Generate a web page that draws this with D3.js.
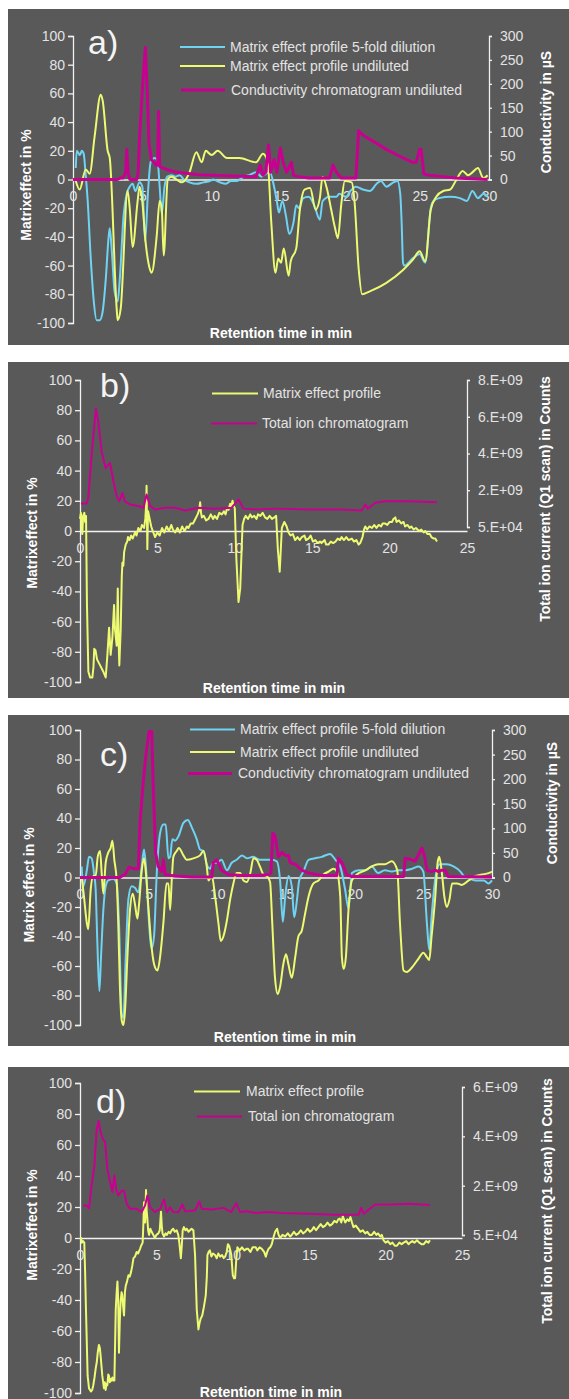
<!DOCTYPE html>
<html>
<head>
<meta charset="utf-8">
<script src="https://cdn.jsdelivr.net/npm/d3@7"></script>
<style>
  body { margin: 0; background: #fff; }
  svg { display: block; }
  text { font-family: "Liberation Sans", Arial, sans-serif; }
</style>
</head>
<body>
<svg id="svg" width="569" height="1399"></svg>
<script>
// ---------- data: [retention time (min), value] ----------
const leftTicks = [-100, -80, -60, -40, -20, 0, 20, 40, 60, 80, 100];
const xTicks30 = [0, 5, 10, 15, 20, 25, 30];
const xTicks25 = [0, 5, 10, 15, 20, 25];
const condTicks = [0, 50, 100, 150, 200, 250, 300];
const ticTicksB = [5e4, 2e9, 4e9, 6e9, 8e9];
const ticLabelsB = ['5.E+04', '2.E+09', '4.E+09', '6.E+09', '8.E+09'];
const ticTicksD = [5e4, 2e9, 4e9, 6e9];
const ticLabelsD = ['5.E+04', '2.E+09', '4.E+09', '6.E+09'];

// panel a  (matrix effect in %, conductivity in µS)
const aDilution = [[0.2,8],[0.27,20],[0.5,17],[0.63,20],[0.77,18],[0.9,5],[1.06,-15],[1.28,-55],[1.5,-85],[1.7,-98],[1.93,-98],[2.14,-92],[2.36,-70],[2.57,-40],[2.65,-34],[2.8,-50],[3.0,-78],[3.22,-85],[3.37,-70],[3.65,-25],[3.87,-10],[4.09,-5],[4.3,-3],[4.5,-8],[4.8,-2],[5.0,-5],[5.2,-43],[5.4,-10],[5.6,12],[5.9,15],[6.1,13],[6.25,-5],[6.4,-24],[6.6,-5],[6.8,2],[7.1,3],[7.4,2],[7.7,3],[8.0,0],[8.4,-2],[8.9,-3],[9.4,-2],[9.9,-1],[10.1,0],[10.6,-2],[11.0,-3],[11.4,-1],[11.8,-1],[12.3,2],[12.7,3],[13.2,5],[13.6,2],[13.9,4],[14.2,5],[14.5,-5],[14.7,-15],[14.85,-23],[15.1,-15],[15.35,-25],[15.6,-38],[15.9,-30],[16.1,-18],[16.3,-20],[16.6,-13],[17.0,-12],[17.4,-18],[17.8,-28],[18.0,-15],[18.5,-12],[19.0,-12],[19.2,-10],[19.7,-12],[20.0,-8],[20.4,-5],[20.9,-7],[21.4,-8],[21.9,-3],[22.2,-1],[22.6,-5],[23.1,-2],[23.4,-1],[23.6,-10],[23.7,-30],[23.8,-58],[23.9,-60],[24.5,-55],[25.0,-52],[25.4,-58],[25.8,-20],[26.0,-15],[26.4,-13],[27.2,-12],[27.9,-13],[28.4,-15],[28.8,-8],[29.2,-13],[29.6,-10],[29.9,-12]];
const aUndiluted = [[0.2,-1],[0.48,-7],[0.92,7],[1.2,4],[1.56,30],[2.0,59],[2.14,55],[2.5,20],[2.65,15],[3.15,-90],[3.22,-98],[3.44,-90],[3.94,-8],[4.09,-20],[4.3,-47],[4.66,-15],[4.8,-5],[4.96,-12],[5.25,-45],[5.53,-62],[5.67,-65],[6.03,-40],[6.25,-15],[6.4,-20],[6.54,-53],[6.83,0],[7.1,2],[7.84,-2],[8.2,1],[8.4,5],[8.9,19],[9.28,12],[9.57,20],[10.0,17],[10.43,20],[11.1,15],[12.0,15],[13.2,12],[13.7,18],[14.04,12],[14.3,-30],[14.6,-65],[14.8,-55],[15.0,-58],[15.2,-48],[15.55,-67],[15.7,-57],[16.1,-48],[16.35,-22],[16.7,-7],[17.1,-6],[17.5,-21],[17.8,-13],[18.0,2],[18.3,-6],[18.6,-20],[18.9,-34],[19.1,-41],[19.35,-17],[19.6,-1],[20.1,-2],[20.3,-15],[20.6,-62],[20.85,-80],[21.4,-78],[22.6,-72],[23.8,-63],[24.5,-56],[25.0,-50],[25.4,-57],[25.8,-21],[26.2,-12],[26.7,-8],[27.2,-7],[27.6,-1],[28.1,6],[28.5,3],[28.8,5],[29.2,8],[29.6,1],[29.9,3]];
const aConductivity = [[0,0],[3.2,0],[3.4,3],[3.6,3],[3.8,15],[3.88,63],[3.97,15],[4.1,0],[4.6,0],[4.7,15],[4.8,90],[5.05,210],[5.22,276],[5.36,180],[5.48,75],[5.65,42],[6.0,30],[6.1,30],[6.17,142],[6.25,27],[6.75,21],[7.5,15],[9.1,10],[11.5,7.5],[13.2,6],[13.5,30],[13.7,9],[13.9,15],[14.1,72],[14.25,15],[14.5,42],[14.7,15],[14.95,66],[15.15,36],[15.4,15],[15.75,36],[15.9,9],[16.3,6],[17,3],[18.5,3],[18.75,30],[19.0,15],[19.35,3],[20.4,3],[20.6,102],[20.9,93],[22.6,63],[23.8,45],[24.5,36],[24.75,36],[25.0,63],[25.1,63],[25.3,12],[25.7,9],[26.7,6],[27.6,3],[29.9,0]];

// panel b  (matrix effect in %, total ion current in counts x 1e9)
const bProfile = [[0.0,8],[0.06,12],[0.1,2],[0.15,-2],[0.2,10],[0.28,12],[0.33,6],[0.39,10],[0.45,-49],[0.54,-93],[0.65,-97],[0.8,-97],[0.87,-90],[0.92,-78],[1.0,-79],[1.1,-85],[1.3,-89],[1.5,-93],[1.66,-97],[1.77,-82],[1.88,-64],[1.98,-82],[2.09,-71],[2.2,-49],[2.26,-65],[2.37,-76],[2.44,-38],[2.5,-75],[2.54,-89],[2.63,-65],[2.7,-30],[2.74,-21],[2.8,-23],[2.85,-14],[2.95,-9],[3.05,-7],[3.1,-4],[3.2,-6],[3.3,-3],[3.4,-5],[3.55,-1],[3.65,-3],[3.77,2],[3.9,0],[4.0,4],[4.14,2],[4.22,8],[4.27,17],[4.3,30],[4.33,5],[4.35,-12],[4.38,5],[4.4,13],[4.5,8],[4.6,3],[4.7,0],[4.85,-4],[5.0,-1],[5.15,-3],[5.3,2],[5.45,-1],[5.6,3],[5.75,0],[5.9,4],[6.0,1],[6.14,-1],[6.3,2],[6.45,-1],[6.6,3],[6.75,0],[6.9,3],[7.0,2],[7.15,5],[7.3,5],[7.45,8],[7.6,11],[7.7,14],[7.76,19],[7.82,12],[7.87,9],[8.0,10],[8.15,7],[8.3,8],[8.45,11],[8.6,8],[8.7,10],[8.85,8],[9.0,12],[9.16,11],[9.3,13],[9.4,11],[9.5,15],[9.6,14],[9.7,18],[9.78,16],[9.85,20],[9.92,17],[10.0,15],[10.1,-18],[10.24,-47],[10.35,-38],[10.5,4],[10.6,8],[10.7,10],[10.85,8],[11.0,11],[11.1,9],[11.25,10],[11.4,8],[11.5,11],[11.65,10],[11.8,12],[11.96,9],[12.1,8],[12.25,10],[12.4,8],[12.55,9],[12.67,10],[12.78,-12],[12.9,-27],[13.04,2],[13.2,6],[13.35,3],[13.47,-1],[13.6,-3],[13.75,-2],[13.9,-6],[14.05,-4],[14.2,-6],[14.33,-4],[14.5,-3],[14.6,-6],[14.76,-5],[14.9,-3],[15.05,-7],[15.2,-6],[15.35,-8],[15.5,-7],[15.6,-8],[15.8,-6],[15.9,-9],[16.05,-9],[16.2,-7],[16.35,-8],[16.5,-7],[16.65,-5],[16.8,-6],[16.9,-4],[17.05,-6],[17.2,-4],[17.35,-6],[17.56,-5],[17.7,-7],[17.85,-6],[18.0,-9],[18.1,-8],[18.25,-4],[18.35,1],[18.43,3],[18.55,1],[18.7,3],[18.86,2],[19.0,4],[19.15,2],[19.3,4],[19.45,3],[19.55,5],[19.7,5],[19.85,4],[20.0,6],[20.15,6],[20.25,8],[20.37,9],[20.45,6],[20.6,7],[20.75,5],[20.9,6],[21.0,3],[21.15,4],[21.3,2],[21.4,3],[21.55,1],[21.7,2],[21.9,0],[22.05,1],[22.2,-1],[22.3,0],[22.45,-2],[22.6,-2],[22.7,-4],[22.85,-5],[22.95,-5],[23.06,-7]];
const bTic = [[0.06,1.28],[0.43,1.28],[0.54,1.59],[0.75,3.93],[1.03,6.45],[1.18,5.73],[1.4,4.1],[1.66,3.2],[1.83,3.39],[1.94,3.48],[2.16,2.49],[2.37,1.68],[2.54,1.4],[2.74,1.86],[2.9,1.4],[3.23,1.23],[3.77,1.14],[4.1,1.05],[4.3,1.77],[4.53,1.14],[4.85,0.95],[5.5,1.05],[6.14,1.05],[6.8,0.9],[7.65,1.05],[8.7,0.99],[9.8,1.05],[10.24,1.5],[10.56,1.0],[11.5,0.95],[12.6,1.0],[14.76,0.95],[16.9,0.95],[18.2,0.9],[18.43,1.23],[18.6,1.0],[19.07,1.32],[19.7,1.4],[21.2,1.4],[23.06,1.35]];

// panel c  (matrix effect in %, conductivity in µS)
const cDilution = [[0.12,7.5],[0.24,-6],[0.5,5],[0.66,14],[0.85,13],[1.02,3],[1.14,-8],[1.26,-43],[1.41,-77],[1.53,-54],[1.7,-22],[1.87,-6],[2.06,-2],[2.43,-1],[2.67,-4],[2.84,-31],[3.04,-93],[3.16,-95],[3.33,-54],[3.52,-15],[3.76,-6],[4.0,-7],[4.25,-10],[4.5,7.5],[4.66,19],[4.8,7.5],[4.98,-24],[5.22,-48],[5.39,-40],[5.59,3],[5.83,30],[6.07,36],[6.24,36],[6.44,13],[6.56,14],[6.73,26],[6.92,25],[7.17,28],[7.53,37],[7.85,39],[8.14,34],[8.5,26],[8.74,19],[8.99,18],[9.23,9],[9.47,6],[9.7,10],[9.96,10],[10.3,12],[10.7,5],[11.05,10],[11.4,12],[11.8,15],[12.15,13],[12.6,14],[13.1,12],[13.6,12],[13.97,12],[14.33,11],[14.57,-2],[14.77,-30],[14.94,-13],[15.18,1],[15.42,-6],[15.6,-27],[15.8,-15],[15.96,-2],[16.27,4],[16.64,12],[17.1,13],[17.6,14],[18.2,16],[18.6,12],[18.95,7.5],[19.3,-8],[19.55,-21],[19.8,3],[20.3,5],[20.8,5],[21.25,7.5],[21.7,3],[22.2,5],[22.7,4],[23.2,5],[23.7,5],[24.2,6],[24.65,7.5],[25.0,4],[25.26,-31],[25.43,-49],[25.6,-27],[25.9,1],[26.2,9],[26.7,9],[27.2,7.5],[27.7,4],[27.95,1],[28.3,-0.5],[28.8,-2],[29.4,-2],[29.75,-4],[30,-2]];
const cUndiluted = [[0.12,1],[0.29,-13],[0.5,-31],[0.6,-35],[0.78,-8],[0.97,1],[1.14,1],[1.29,14],[1.46,18],[1.58,3],[1.7,-11],[1.87,10],[2.06,17],[2.23,20],[2.36,25],[2.5,12],[2.67,-2],[2.8,-36],[2.9,-72],[3.04,-97],[3.16,-100],[3.28,-90],[3.45,-54],[3.64,-22],[3.84,-11],[4.0,-18],[4.18,-28],[4.3,-18],[4.5,5],[4.66,13],[4.8,3],[4.98,-20],[5.17,-43],[5.4,-59],[5.64,-63],[5.83,-54],[6.07,-31],[6.3,-4],[6.44,-4],[6.56,-22],[6.68,-2],[6.8,14],[7.04,18],[7.2,20],[7.53,15],[7.77,12],[8.26,13],[8.74,15],[8.99,18],[9.23,7.5],[9.35,-2],[9.6,1],[9.84,-13],[10.08,-31],[10.25,-43],[10.44,-40],[10.7,-29],[10.93,-15],[11.17,-4],[11.4,3],[11.66,3],[11.9,-2],[12.15,-3],[12.4,3],[12.63,13],[12.87,12],[13.1,7.5],[13.36,2],[13.6,1],[13.84,-3],[14.0,-31],[14.2,-68],[14.4,-79],[14.57,-74],[14.8,-59],[15.0,-52],[15.18,-59],[15.42,-68],[15.67,-54],[15.9,-40],[16.15,-36],[16.4,-24],[16.64,-13],[17.0,-4],[17.37,-2],[17.73,2],[18.1,4],[18.46,6],[18.7,4],[18.95,-13],[19.07,-54],[19.2,-62],[19.36,-54],[19.55,-22],[19.8,-2],[20.16,2],[20.8,5],[21.25,7.5],[21.7,9],[22.2,9],[22.7,11],[23.1,5],[23.3,-31],[23.56,-63],[23.8,-64],[24.17,-61],[24.65,-55],[25.0,-51],[25.26,-54],[25.43,-56],[25.6,-40],[25.87,-13],[26.04,10],[26.16,14],[26.35,3],[26.53,-13],[26.7,-20],[26.9,-15],[27.1,-4],[27.46,-4],[27.8,-5],[28.3,-2],[28.8,1],[29.27,2],[29.75,3],[30,4]];
const cConductivity = [[0,0],[2.9,0],[3.04,3],[3.28,6],[3.57,21],[3.89,18],[4.25,18],[4.37,111],[4.6,192],[4.8,249],[5.03,297],[5.22,297],[5.34,180],[5.5,51],[5.7,22],[5.95,12],[6.07,36],[6.2,6],[6.92,3],[8.14,1],[9.6,1],[9.7,30],[9.96,36],[10.3,15],[10.8,6],[11.8,4],[13.0,4],[13.7,6],[13.9,9],[14.04,90],[14.2,84],[14.45,42],[14.7,51],[14.94,45],[15.18,45],[15.3,30],[15.67,27],[16.15,15],[16.64,9],[17.6,4],[18.7,4],[18.82,39],[19.07,30],[19.43,6],[19.8,2],[23.56,2],[23.68,39],[24.17,36],[24.4,33],[24.9,60],[25.1,42],[25.26,15],[25.6,12],[25.87,15],[26.1,12],[26.35,15],[26.6,15],[26.8,2],[30,1]];

// panel d  (matrix effect in %, total ion current in counts x 1e9)
const dProfile = [[0.0,0],[0.07,0],[0.12,-3],[0.2,-2],[0.28,-3],[0.33,-20],[0.39,-46],[0.5,-89],[0.59,-97],[0.72,-99],[0.8,-98],[0.87,-95],[0.95,-90],[1.03,-84],[1.1,-80],[1.16,-74],[1.24,-69],[1.3,-71],[1.35,-76],[1.46,-89],[1.57,-97],[1.62,-93],[1.68,-98],[1.74,-94],[1.79,-95],[1.85,-88],[1.9,-89],[1.95,-93],[2.0,-91],[2.06,-92],[2.12,-90],[2.18,-92],[2.25,-92],[2.34,-46],[2.4,-35],[2.45,-28],[2.5,-40],[2.55,-74],[2.6,-55],[2.66,-41],[2.72,-35],[2.77,-37],[2.83,-45],[2.88,-50],[2.94,-35],[2.99,-31],[3.08,-28],[3.17,-24],[3.25,-25],[3.34,-22],[3.42,-18],[3.5,-13],[3.6,-12],[3.71,-9],[3.8,-10],[3.93,-7],[4.0,-5],[4.1,-3],[4.15,10],[4.19,23],[4.23,12],[4.26,10],[4.29,20],[4.32,31],[4.36,18],[4.41,12],[4.46,5],[4.52,2],[4.6,6],[4.69,4],[4.8,2],[4.9,0],[5.0,2],[5.13,3],[5.22,5],[5.3,17],[5.35,8],[5.4,3],[5.5,1],[5.6,3],[5.68,2],[5.8,4],[5.9,3],[6.0,5],[6.1,6],[6.2,4],[6.33,5],[6.43,2],[6.5,-3],[6.6,-13],[6.66,-5],[6.72,5],[6.8,7],[6.9,5],[6.99,6],[7.1,4],[7.2,5],[7.3,6],[7.42,5],[7.53,-11],[7.64,-46],[7.75,-59],[7.82,-55],[7.9,-52],[8.0,-50],[8.08,-46],[8.15,-42],[8.23,-37],[8.3,-25],[8.34,-11],[8.42,-9],[8.5,-8],[8.6,-12],[8.7,-10],[8.84,-11],[8.95,-13],[9.05,-10],[9.17,-12],[9.3,-11],[9.4,-13],[9.5,-12],[9.6,-9],[9.68,-4],[9.76,-5],[9.84,-8],[9.9,-11],[10.0,-24],[10.08,-26],[10.15,-26],[10.22,-15],[10.3,-6],[10.45,-8],[10.6,-6],[10.75,-8],[10.9,-7],[11.0,-7],[11.15,-9],[11.3,-6],[11.5,-6],[11.6,-8],[11.75,-6],[11.9,-7],[12.05,-9],[12.16,-12],[12.25,-9],[12.34,-7],[12.45,-6],[12.55,-4],[12.65,0],[12.77,4],[12.9,6],[13.0,2],[13.1,0],[13.25,2],[13.43,1],[13.6,3],[13.75,1],[13.86,2],[14.0,4],[14.15,2],[14.3,3],[14.45,5],[14.6,3],[14.74,4],[14.9,6],[15.05,4],[15.17,5],[15.3,7],[15.45,5],[15.6,7],[15.75,9],[15.9,7],[16.05,8],[16.2,10],[16.35,8],[16.5,9],[16.65,11],[16.8,10],[16.9,12],[17.0,12.5],[17.1,10],[17.2,14],[17.36,10],[17.5,12],[17.6,11],[17.7,13.5],[17.8,10],[17.9,7],[18.05,8],[18.2,6],[18.35,4],[18.5,5],[18.67,3],[18.8,4],[18.95,2],[19.1,2],[19.25,4],[19.4,2],[19.5,3],[19.65,1],[19.75,2],[19.87,-1.5],[20.0,-3],[20.15,-2],[20.3,-4],[20.45,-3],[20.6,-5],[20.74,-5],[20.9,-3],[21.05,-4],[21.18,-3],[21.35,-2],[21.5,-4],[21.6,-3],[21.75,-2],[21.9,-3],[22.05,-1.5],[22.2,-3],[22.35,-4],[22.5,-4],[22.65,-2],[22.8,-3],[22.9,-1.5]];
const dTic = [[0.22,1.2],[0.44,1.2],[0.59,1.08],[0.76,2.0],[0.94,2.8],[1.09,4.25],[1.22,4.62],[1.35,4.18],[1.48,3.9],[1.64,3.78],[1.79,2.69],[1.97,2.15],[2.12,1.74],[2.25,2.42],[2.36,1.88],[2.51,1.6],[2.73,1.8],[2.88,1.8],[3.06,1.26],[3.28,1.06],[3.71,1.06],[4.04,0.93],[4.26,1.2],[4.41,1.6],[4.59,1.12],[4.9,0.93],[5.24,1.06],[5.5,1.44],[5.68,0.93],[5.9,1.12],[6.1,0.93],[6.44,0.93],[6.7,1.24],[6.88,0.96],[7.53,0.99],[7.8,1.36],[7.97,1.06],[8.62,1.03],[9.39,1.1],[9.9,0.93],[10.22,1.29],[10.48,0.93],[10.9,0.96],[11.46,0.89],[12.34,0.93],[13.2,0.89],[14.96,0.86],[16.7,0.82],[18.23,0.82],[18.4,1.1],[18.58,0.86],[18.9,1.03],[19.32,1.24],[20.4,1.24],[21.5,1.27],[22.9,1.22]];

// ---------- styling ----------
const BG = '#595959';
const CYAN = '#6fd3f3';
const YELLOW = '#eefa70';
const MAGENTA = '#c8008f';
const TICK_TEXT = '#e3e3e3';
const AXIS = '#f2f2f2';

const svg = d3.select('#svg');

const panels = [
  {
    label: 'a)', labelPos: [88, 54], box: [8, 9, 561, 336],
    x0: 73, x1: 489, yTop: 36, yBot: 323, xMax: 30, xTicks: xTicks30,
    leftTitle: 'Matrixeffect in %', leftTitlePos: [26, 185],
    rightTitle: 'Conductivity in µS', rightTitlePos: [546, 112],
    xTitlePos: [281, 338],
    right: {max: 300, bot: 179.5, top: 36, ticks: condTicks, labels: condTicks.map(String)},
    series: [
      {data: aDilution, color: CYAN, width: 2, secondary: false, curve: d3.curveMonotoneX},
      {data: aUndiluted, color: YELLOW, width: 2, secondary: false, curve: d3.curveMonotoneX},
      {data: aConductivity, color: MAGENTA, width: 3, secondary: true, curve: d3.curveLinear}
    ],
    legend: [
      {text: 'Matrix effect profile 5-fold dilution', color: CYAN, width: 2, y: 47, x1: 180, x2: 225, tx: 230},
      {text: 'Matrix effect profile  undiluted', color: YELLOW, width: 2, y: 66, x1: 180, x2: 225, tx: 230},
      {text: 'Conductivity chromatogram undiluted', color: MAGENTA, width: 3, y: 90, x1: 181, x2: 225, tx: 231}
    ]
  },
  {
    label: 'b)', labelPos: [100, 397], box: [8, 362, 561, 336],
    x0: 80, x1: 467, yTop: 380, yBot: 682, xMax: 25, xTicks: xTicks25,
    leftTitle: 'Matrixeffect in %', leftTitlePos: [32, 533],
    rightTitle: 'Total ion current (Q1 scan) in Counts', rightTitlePos: [545, 499],
    xTitlePos: [274, 693],
    right: {max: 8e9, bot: 527, top: 380, ticks: ticTicksB, labels: ticLabelsB},
    series: [
      {data: bProfile, color: YELLOW, width: 2, secondary: false, curve: d3.curveLinear},
      {data: bTic.map(d => [d[0], d[1] * 1e9]), color: MAGENTA, width: 2, secondary: true, curve: d3.curveLinear}
    ],
    legend: [
      {text: 'Matrix effect profile', color: YELLOW, width: 2, y: 393.5, x1: 212, x2: 258, tx: 263},
      {text: 'Total ion chromatogram', color: MAGENTA, width: 2, y: 423.5, x1: 211, x2: 257, tx: 262}
    ]
  },
  {
    label: 'c)', labelPos: [100, 766], box: [8, 715, 561, 331],
    x0: 80, x1: 492, yTop: 730, yBot: 1025, xMax: 30, xTicks: xTicks30,
    leftTitle: 'Matrix effect in %', leftTitlePos: [29, 885],
    rightTitle: 'Conductivity in µS', rightTitlePos: [552, 803],
    xTitlePos: [285, 1042],
    right: {max: 300, bot: 877.5, top: 730, ticks: condTicks, labels: condTicks.map(String)},
    series: [
      {data: cDilution, color: CYAN, width: 2, secondary: false, curve: d3.curveMonotoneX},
      {data: cUndiluted, color: YELLOW, width: 2, secondary: false, curve: d3.curveMonotoneX},
      {data: cConductivity, color: MAGENTA, width: 3, secondary: true, curve: d3.curveLinear}
    ],
    legend: [
      {text: 'Matrix effect profile 5-fold dilution', color: CYAN, width: 2, y: 729.5, x1: 190, x2: 235, tx: 240},
      {text: 'Matrix effect profile undiluted', color: YELLOW, width: 2, y: 752, x1: 190, x2: 235, tx: 240},
      {text: 'Conductivity chromatogram undiluted', color: MAGENTA, width: 3, y: 773.5, x1: 188, x2: 232, tx: 238}
    ]
  },
  {
    label: 'd)', labelPos: [96, 1113], box: [8, 1067, 561, 332],
    x0: 80, x1: 462, yTop: 1083, yBot: 1393, xMax: 25, xTicks: xTicks25,
    leftTitle: 'Matrixeffect in %', leftTitlePos: [32, 1225],
    rightTitle: 'Total ion current (Q1 scan) in Counts', rightTitlePos: [547, 1201],
    xTitlePos: [271, 1397],
    right: {max: 6e9, bot: 1235, top: 1087, ticks: ticTicksD, labels: ticLabelsD},
    series: [
      {data: dProfile, color: YELLOW, width: 2, secondary: false, curve: d3.curveLinear},
      {data: dTic.map(d => [d[0], d[1] * 1e9]), color: MAGENTA, width: 2, secondary: true, curve: d3.curveLinear}
    ],
    legend: [
      {text: 'Matrix effect profile', color: YELLOW, width: 2, y: 1091.5, x1: 194, x2: 240, tx: 246},
      {text: 'Total ion chromatogram', color: MAGENTA, width: 2, y: 1116.5, x1: 197, x2: 242, tx: 248}
    ]
  }
];

panels.forEach(drawPanel);

function drawPanel(p) {
  let g = svg.append('g');

  g.append('rect')
    .attr('x', p.box[0]).attr('y', p.box[1])
    .attr('width', p.box[2]).attr('height', p.box[3])
    .attr('fill', BG);

  let x = d3.scaleLinear().domain([0, p.xMax]).range([p.x0, p.x1]);
  let y = d3.scaleLinear().domain([-100, 100]).range([p.yBot, p.yTop]);
  let y2 = d3.scaleLinear().domain([0, p.right.max]).range([p.right.bot, p.right.top]);

  // left axis (plain hyphen for negatives, as in the original)
  let yAxis = d3.axisLeft(y).tickValues(leftTicks).tickSize(5).tickPadding(3)
    .tickFormat(d => String(d));
  let gy = g.append('g').attr('transform', `translate(${p.x0},0)`).call(yAxis);
  styleAxis(gy);

  // right axis
  let y2Axis = d3.axisRight(y2).tickValues(p.right.ticks).tickSize(3).tickPadding(8)
    .tickFormat((d, i) => p.right.labels[i]);
  let gy2 = g.append('g').attr('transform', `translate(${p.x1},0)`).call(y2Axis);
  styleAxis(gy2);

  // x axis along zero
  let xAxis = d3.axisBottom(x).tickValues(p.xTicks).tickSize(0).tickPadding(12)
    .tickFormat(d => String(d));
  let gx = g.append('g').attr('transform', `translate(0,${y(0)})`).call(xAxis);
  styleAxis(gx);
  gx.select('.domain').attr('stroke-width', 1.6);

  // titles
  g.append('text')
    .attr('transform', `translate(${p.leftTitlePos[0]},${p.leftTitlePos[1]}) rotate(-90)`)
    .attr('text-anchor', 'middle').attr('dy', '0.35em')
    .attr('font-size', 14).attr('font-weight', 'bold').attr('fill', '#fff')
    .text(p.leftTitle);
  g.append('text')
    .attr('transform', `translate(${p.rightTitlePos[0]},${p.rightTitlePos[1]}) rotate(-90)`)
    .attr('text-anchor', 'middle').attr('dy', '0.35em')
    .attr('font-size', 14).attr('font-weight', 'bold').attr('fill', '#fff')
    .text(p.rightTitle);
  g.append('text')
    .attr('x', p.xTitlePos[0]).attr('y', p.xTitlePos[1])
    .attr('text-anchor', 'middle')
    .attr('font-size', 14).attr('font-weight', 'bold').attr('fill', '#fff')
    .text('Retention time in min');

  // panel letter
  g.append('text')
    .attr('x', p.labelPos[0]).attr('y', p.labelPos[1])
    .attr('font-size', 34).attr('fill', '#f4f4f4')
    .text(p.label);

  // series
  p.series.forEach(s => {
    let line = d3.line()
      .x(d => x(d[0]))
      .y(d => s.secondary ? y2(d[1]) : y(d[1]))
      .curve(s.curve);
    g.append('path')
      .datum(s.data)
      .attr('d', line)
      .attr('fill', 'none')
      .attr('stroke', s.color)
      .attr('stroke-width', s.width)
      .attr('stroke-linejoin', 'round');
  });

  // legend
  p.legend.forEach(l => {
    g.append('line')
      .attr('x1', l.x1).attr('x2', l.x2).attr('y1', l.y).attr('y2', l.y)
      .attr('stroke', l.color).attr('stroke-width', l.width);
    g.append('text')
      .attr('x', l.tx).attr('y', l.y).attr('dy', '0.35em')
      .attr('font-size', 14).attr('fill', TICK_TEXT)
      .text(l.text);
  });
}

function styleAxis(sel) {
  sel.select('.domain').attr('stroke', AXIS).attr('stroke-width', 1.3);
  sel.selectAll('.tick line').attr('stroke', AXIS).attr('stroke-width', 1.3);
  sel.selectAll('.tick text')
    .attr('fill', TICK_TEXT)
    .attr('font-size', 14)
    .attr('font-family', '"Liberation Sans", Arial, sans-serif');
}
</script>
</body>
</html>
